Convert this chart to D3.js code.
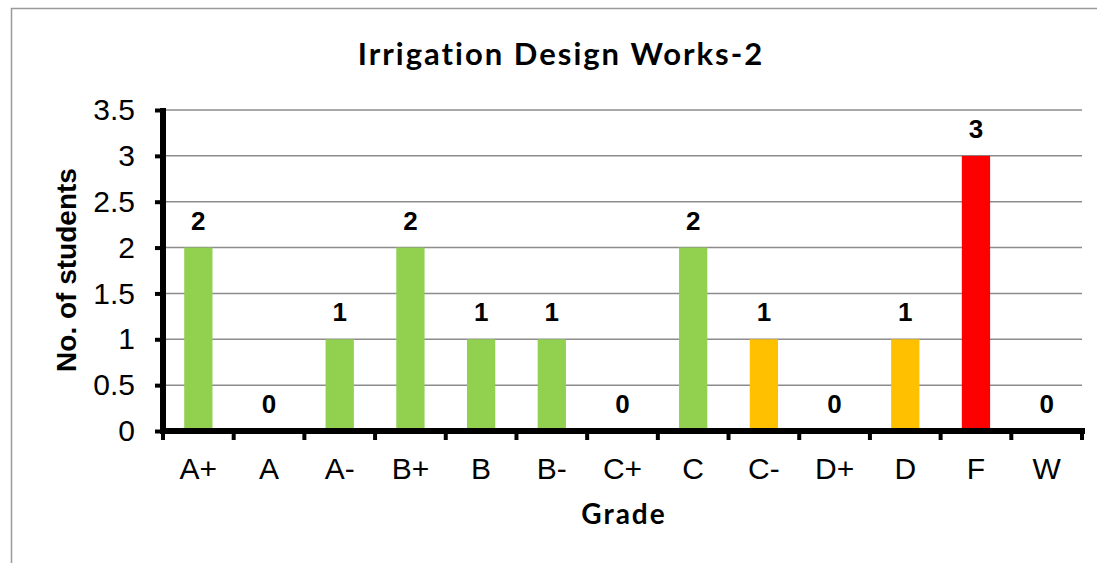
<!DOCTYPE html>
<html>
<head>
<meta charset="utf-8">
<script src="https://cdn.jsdelivr.net/npm/d3@7"></script>
<style>
  body { margin: 0; background: #fff; }
  svg { display: block; }
</style>
</head>
<body>
<svg id="chart" width="1097" height="563"></svg>
<script>
// data
const grades = ["A+", "A", "A-", "B+", "B", "B-", "C+", "C", "C-", "D+", "D", "F", "W"];
const students = [2, 0, 1, 2, 1, 1, 0, 2, 1, 0, 1, 3, 0];
const barColors = ["#92D050", "#92D050", "#92D050", "#92D050", "#92D050", "#92D050", "#92D050",
                   "#92D050", "#FFC000", "#FFC000", "#FFC000", "#FF0000", "#FF0000"];
const yTicks = [0, 0.5, 1, 1.5, 2, 2.5, 3, 3.5];

const svg = d3.select("#chart");

const plotL = 163, plotR = 1082, plotT = 110, plotB = 431;
const ARIAL = "Liberation Sans, Arial, sans-serif";

// outer chart border
svg.append("rect")
  .attr("x", 11.5).attr("y", 8.5)
  .attr("width", 1100).attr("height", 600)
  .attr("fill", "none")
  .attr("stroke", "#999")
  .attr("stroke-width", 1.5);

const x = d3.scaleBand().domain(grades).range([plotL, plotR]).paddingInner(0.6).paddingOuter(0.3);
const xb = d3.scaleBand().domain(grades).range([plotL, plotR]);
const y = d3.scaleLinear().domain([0, 3.5]).range([plotB, plotT]);

// gridlines
svg.append("g")
  .selectAll("line")
  .data(yTicks.filter(d => d > 0))
  .enter()
  .append("line")
  .attr("x1", plotL).attr("x2", plotR)
  .attr("y1", d => y(d)).attr("y2", d => y(d))
  .attr("stroke", "#8c8c8c")
  .attr("stroke-width", 1.5);

// bars
const data = grades.map((g, i) => ({ grade: g, value: students[i], color: barColors[i] }));

svg.append("g")
  .selectAll("rect")
  .data(data.filter(d => d.value > 0))
  .enter()
  .append("rect")
  .attr("x", d => x(d.grade))
  .attr("width", x.bandwidth())
  .attr("y", d => y(d.value))
  .attr("height", d => y(0) - y(d.value))
  .attr("fill", d => d.color);

// data labels
svg.append("g")
  .selectAll("text")
  .data(data)
  .enter()
  .append("text")
  .attr("x", d => x(d.grade) + x.bandwidth() / 2)
  .attr("y", d => y(d.value) - 18)
  .attr("text-anchor", "middle")
  .attr("font-family", ARIAL)
  .attr("font-weight", "bold")
  .attr("font-size", 26)
  .attr("fill", "#000")
  .text(d => d.value);

// y axis
const yAxis = d3.axisLeft(y).tickValues(yTicks).tickSize(8).tickPadding(20)
  .tickFormat(d => d);
const yg = svg.append("g").attr("transform", `translate(${plotL},0)`).call(yAxis);
yg.select(".domain").remove();
yg.selectAll(".tick line").attr("stroke", "#000").attr("stroke-width", 4);
yg.selectAll(".tick text")
  .attr("font-family", ARIAL)
  .attr("font-size", 30)
  .attr("fill", "#000");
svg.append("line")
  .attr("x1", plotL).attr("x2", plotL)
  .attr("y1", plotT - 2).attr("y2", plotB + 3)
  .attr("stroke", "#000").attr("stroke-width", 6);

// x axis, ticks at category boundaries
const xg = svg.append("g").attr("transform", `translate(0,${plotB})`);
xg.selectAll("line.tk")
  .data(d3.range(grades.length + 1))
  .enter()
  .append("line")
  .attr("class", "tk")
  .attr("x1", i => plotL + i * xb.bandwidth())
  .attr("x2", i => plotL + i * xb.bandwidth())
  .attr("y1", 0).attr("y2", 9)
  .attr("stroke", "#000").attr("stroke-width", 4);
xg.append("line")
  .attr("x1", plotL - 3).attr("x2", plotR + 3)
  .attr("y1", 0).attr("y2", 0)
  .attr("stroke", "#000").attr("stroke-width", 6);
xg.selectAll("text")
  .data(grades)
  .enter()
  .append("text")
  .attr("x", d => xb(d) + xb.bandwidth() / 2)
  .attr("y", 48)
  .attr("text-anchor", "middle")
  .attr("font-family", ARIAL)
  .attr("font-size", 30)
  .attr("fill", "#000")
  .text(d => d);

// titles
svg.append("text")
  .attr("x", 561).attr("y", 65)
  .attr("text-anchor", "middle")
  .attr("font-family", "Lato, sans-serif")
  .attr("font-weight", "bold")
  .attr("font-size", 31)
  .attr("letter-spacing", 2)
  .text("Irrigation Design Works-2");

svg.append("text")
  .attr("x", 624).attr("y", 524)
  .attr("text-anchor", "middle")
  .attr("font-family", "Lato, sans-serif")
  .attr("font-weight", "bold")
  .attr("font-size", 28)
  .attr("letter-spacing", 2)
  .text("Grade");

svg.append("text")
  .attr("transform", "translate(76,270) rotate(-90)")
  .attr("text-anchor", "middle")
  .attr("font-family", ARIAL)
  .attr("font-weight", "bold")
  .attr("font-size", 28)
  .text("No. of students");
</script>
</body>
</html>
